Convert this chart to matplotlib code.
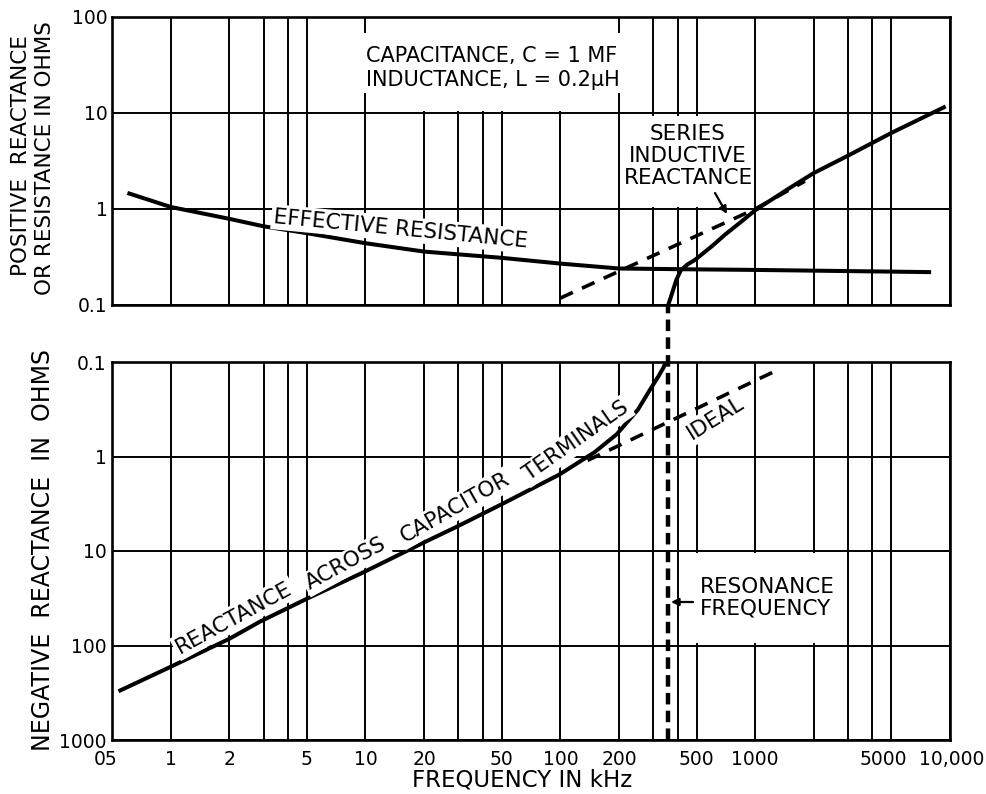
import matplotlib
matplotlib.use("Agg")
import matplotlib.pyplot as plt
import matplotlib.transforms as mtransforms
from matplotlib.patches import Rectangle, FancyArrowPatch
from matplotlib.ticker import NullLocator

plt.rcParams['font.family'] = ['DejaVu Sans']
plt.rcParams['font.size'] = 15.5

# ---------------- data ----------------
x_grid = [0.5, 1, 2, 3, 4, 5, 10, 20, 30, 40, 50, 100, 200, 300, 400, 500,
          1000, 2000, 3000, 4000, 5000, 10000]
x_labels = ["05", "1", "2", "", "", "5", "10", "20", "", "", "50", "100", "200",
            "", "", "500", "1000", "", "", "", "5000", "10,000"]
y_top_ticks = [0.1, 1, 10, 100]
y_top_labels = ["0.1", "1", "10", "100"]
y_bot_ticks = [0.1, 1, 10, 100, 1000]
y_bot_labels = ["0.1", "1", "10", "100", "1000"]

# effective resistance (ohms)
res_freq = [0.6, 1, 2, 3, 5, 10, 20, 50, 100, 200, 500, 1000, 8000]
res_vals = [1.47, 1.05, 0.79, 0.66, 0.56, 0.44, 0.36, 0.31, 0.27, 0.24, 0.235, 0.232, 0.22]

# positive (inductive) net reactance above resonance
pos_freq = [358, 372, 393, 415, 450, 491, 600, 700, 850, 1000, 1500, 2000, 3000, 5000, 9500]
pos_vals = [0.1, 0.127, 0.18, 0.23, 0.265, 0.295, 0.41, 0.54, 0.74, 0.97, 1.65, 2.37, 3.6, 6.2, 11.7]

# series inductive reactance (ideal, dashed)
ind_freq = [100, 1000, 1800]
ind_vals = [0.118, 1.0, 1.95]

# negative reactance across capacitor terminals
neg_freq = [0.54, 1, 2, 2.87, 5, 9.7, 20, 29.6, 50, 99, 150, 195, 250, 287, 320, 338, 348]
neg_vals = [305, 168, 85, 56, 32, 16.9, 8.1, 5.5, 3.2, 1.55, 0.9, 0.58, 0.32, 0.2, 0.14, 0.115, 0.1]

# ideal capacitor reactance (dashed)
cap_freq = [138, 1255]
cap_vals = [1.1, 0.126]

resonance_khz = 356

W, H = 987, 794
def fx(px):
    return px / W
def fy(py):
    return 1 - py / H

fig = plt.figure(figsize=(W / 100, H / 100), dpi=100)
ax1 = fig.add_axes([fx(112), fy(305), 838 / W, 288 / H])
ax2 = fig.add_axes([fx(112), fy(740), 838 / W, 378 / H])

for ax in (ax1, ax2):
    ax.set_xscale('log')
    ax.set_yscale('log')
    ax.set_xlim(0.5, 10000)
    ax.set_xticks(x_grid)
    ax.xaxis.set_minor_locator(NullLocator())
    ax.yaxis.set_minor_locator(NullLocator())
    ax.tick_params(length=0, labelsize=13.5)
    ax.grid(True, which='major', color='black', lw=1.4, zorder=0.5)
    ax.set_axisbelow(True)
    for s in ax.spines.values():
        s.set_linewidth(1.9)
        s.set_zorder(5)

ax1.set_ylim(0.1, 100)
ax1.set_yticks(y_top_ticks)
ax1.set_yticklabels(y_top_labels)
ax1.set_xticklabels([])
ax1.tick_params(axis='y', pad=3)

ax2.set_ylim(1000, 0.1)
ax2.set_yticks(y_bot_ticks)
ax2.set_yticklabels(y_bot_labels)
ax2.set_xticklabels(x_labels)
ax2.tick_params(axis='x', pad=7)
ax2.tick_params(axis='y', pad=4)

# small horizontal nudges of a few tick labels, as in the reference
for lab in ax2.get_xticklabels():
    shift = {"05": -6, "5000": -8, "10,000": 2}.get(lab.get_text(), 0)
    if shift:
        lab.set_transform(lab.get_transform() +
                          mtransforms.ScaledTranslation(shift / 100, 0, fig.dpi_scale_trans))

# white blank areas in the grid (label boxes)
def blank(ax, x0, x1, y0, y1):
    ax.add_patch(Rectangle((x0, y0), x1 - x0, y1 - y0, facecolor='white',
                           edgecolor='none', zorder=1))

blank(ax1, 11, 185, 10.6, 97)
blank(ax1, 9.3, 215, 16.1, 68)
blank(ax1, 215, 940, 1.06, 9.4)
blank(ax2, 430, 2800, 10.6, 95)

# curves
ax1.plot(res_freq, res_vals, color='black', lw=2.9, zorder=3, solid_capstyle='butt')
ax1.plot(pos_freq, pos_vals, color='black', lw=2.9, zorder=3, solid_capstyle='butt')
ax1.plot(ind_freq, ind_vals, color='black', lw=2.6, ls=(0, (3.8, 2.8)), zorder=3)
ax2.plot(neg_freq, neg_vals, color='black', lw=2.9, zorder=3, solid_capstyle='butt')
ax2.plot(cap_freq, cap_vals, color='black', lw=2.6, ls=(0, (3.8, 2.8)), zorder=3)
ax2.plot([resonance_khz, resonance_khz], [0, 1.151], transform=ax2.get_xaxis_transform(),
         clip_on=False, color='black', lw=3.2, ls=(0, (2.6, 1.4)), zorder=4)

# axis labels
fig.text(fx(21), fy(156), 'POSITIVE  REACTANCE', rotation=90, ha='center', va='center', fontsize=15.5)
fig.text(fx(45), fy(158), 'OR RESISTANCE IN OHMS', rotation=90, ha='center', va='center', fontsize=15.5)
fig.text(fx(43), fy(550), 'NEGATIVE  REACTANCE  IN  OHMS', rotation=90, ha='center', va='center',
         fontsize=17)
fig.text(fx(522), fy(780), 'FREQUENCY IN kHz', ha='center', va='center', fontsize=16.5)

wb = dict(facecolor='white', edgecolor='none', boxstyle='square,pad=0.12')

fig.text(fx(366), fy(68), 'CAPACITANCE, C = 1 MF\nINDUCTANCE, L = 0.2μH', ha='left', va='center',
         linespacing=1.3, zorder=2, fontsize=15)
fig.text(fx(688), fy(156), 'SERIES\nINDUCTIVE\nREACTANCE', ha='center', va='center',
         linespacing=1.1, zorder=2)
fig.text(fx(700), fy(598), 'RESONANCE\nFREQUENCY', ha='left', va='center',
         linespacing=1.07, zorder=2)
fig.text(fx(401), fy(229), 'EFFECTIVE RESISTANCE', ha='center', va='center', rotation=-5.5,
         rotation_mode='anchor', zorder=2, bbox=wb)
fig.text(fx(716), fy(418), 'IDEAL', ha='center', va='center', rotation=32,
         rotation_mode='anchor', zorder=2, bbox=wb)

for word, (px, py), rot in [('REACTANCE', (234, 618), 28.5), ('ACROSS', (346, 564), 28.5),
                            ('CAPACITOR', (455, 508), 29.5), ('TERMINALS', (576, 441), 35)]:
    fig.text(fx(px), fy(py), word, ha='center', va='center', rotation=rot,
             rotation_mode='anchor', zorder=2, bbox=wb)

# pointers
arr = dict(arrowstyle='-|>', color='black', lw=1.6, mutation_scale=11, shrinkA=0, shrinkB=0)
fig.add_artist(FancyArrowPatch((fx(715), fy(193)), (fx(727), fy(214)),
                               transform=fig.transFigure, **arr))
fig.add_artist(FancyArrowPatch((fx(693), fy(602)), (fx(671), fy(602)),
                               transform=fig.transFigure, **arr))

fig.savefig('out.png', dpi=100, facecolor='white')
